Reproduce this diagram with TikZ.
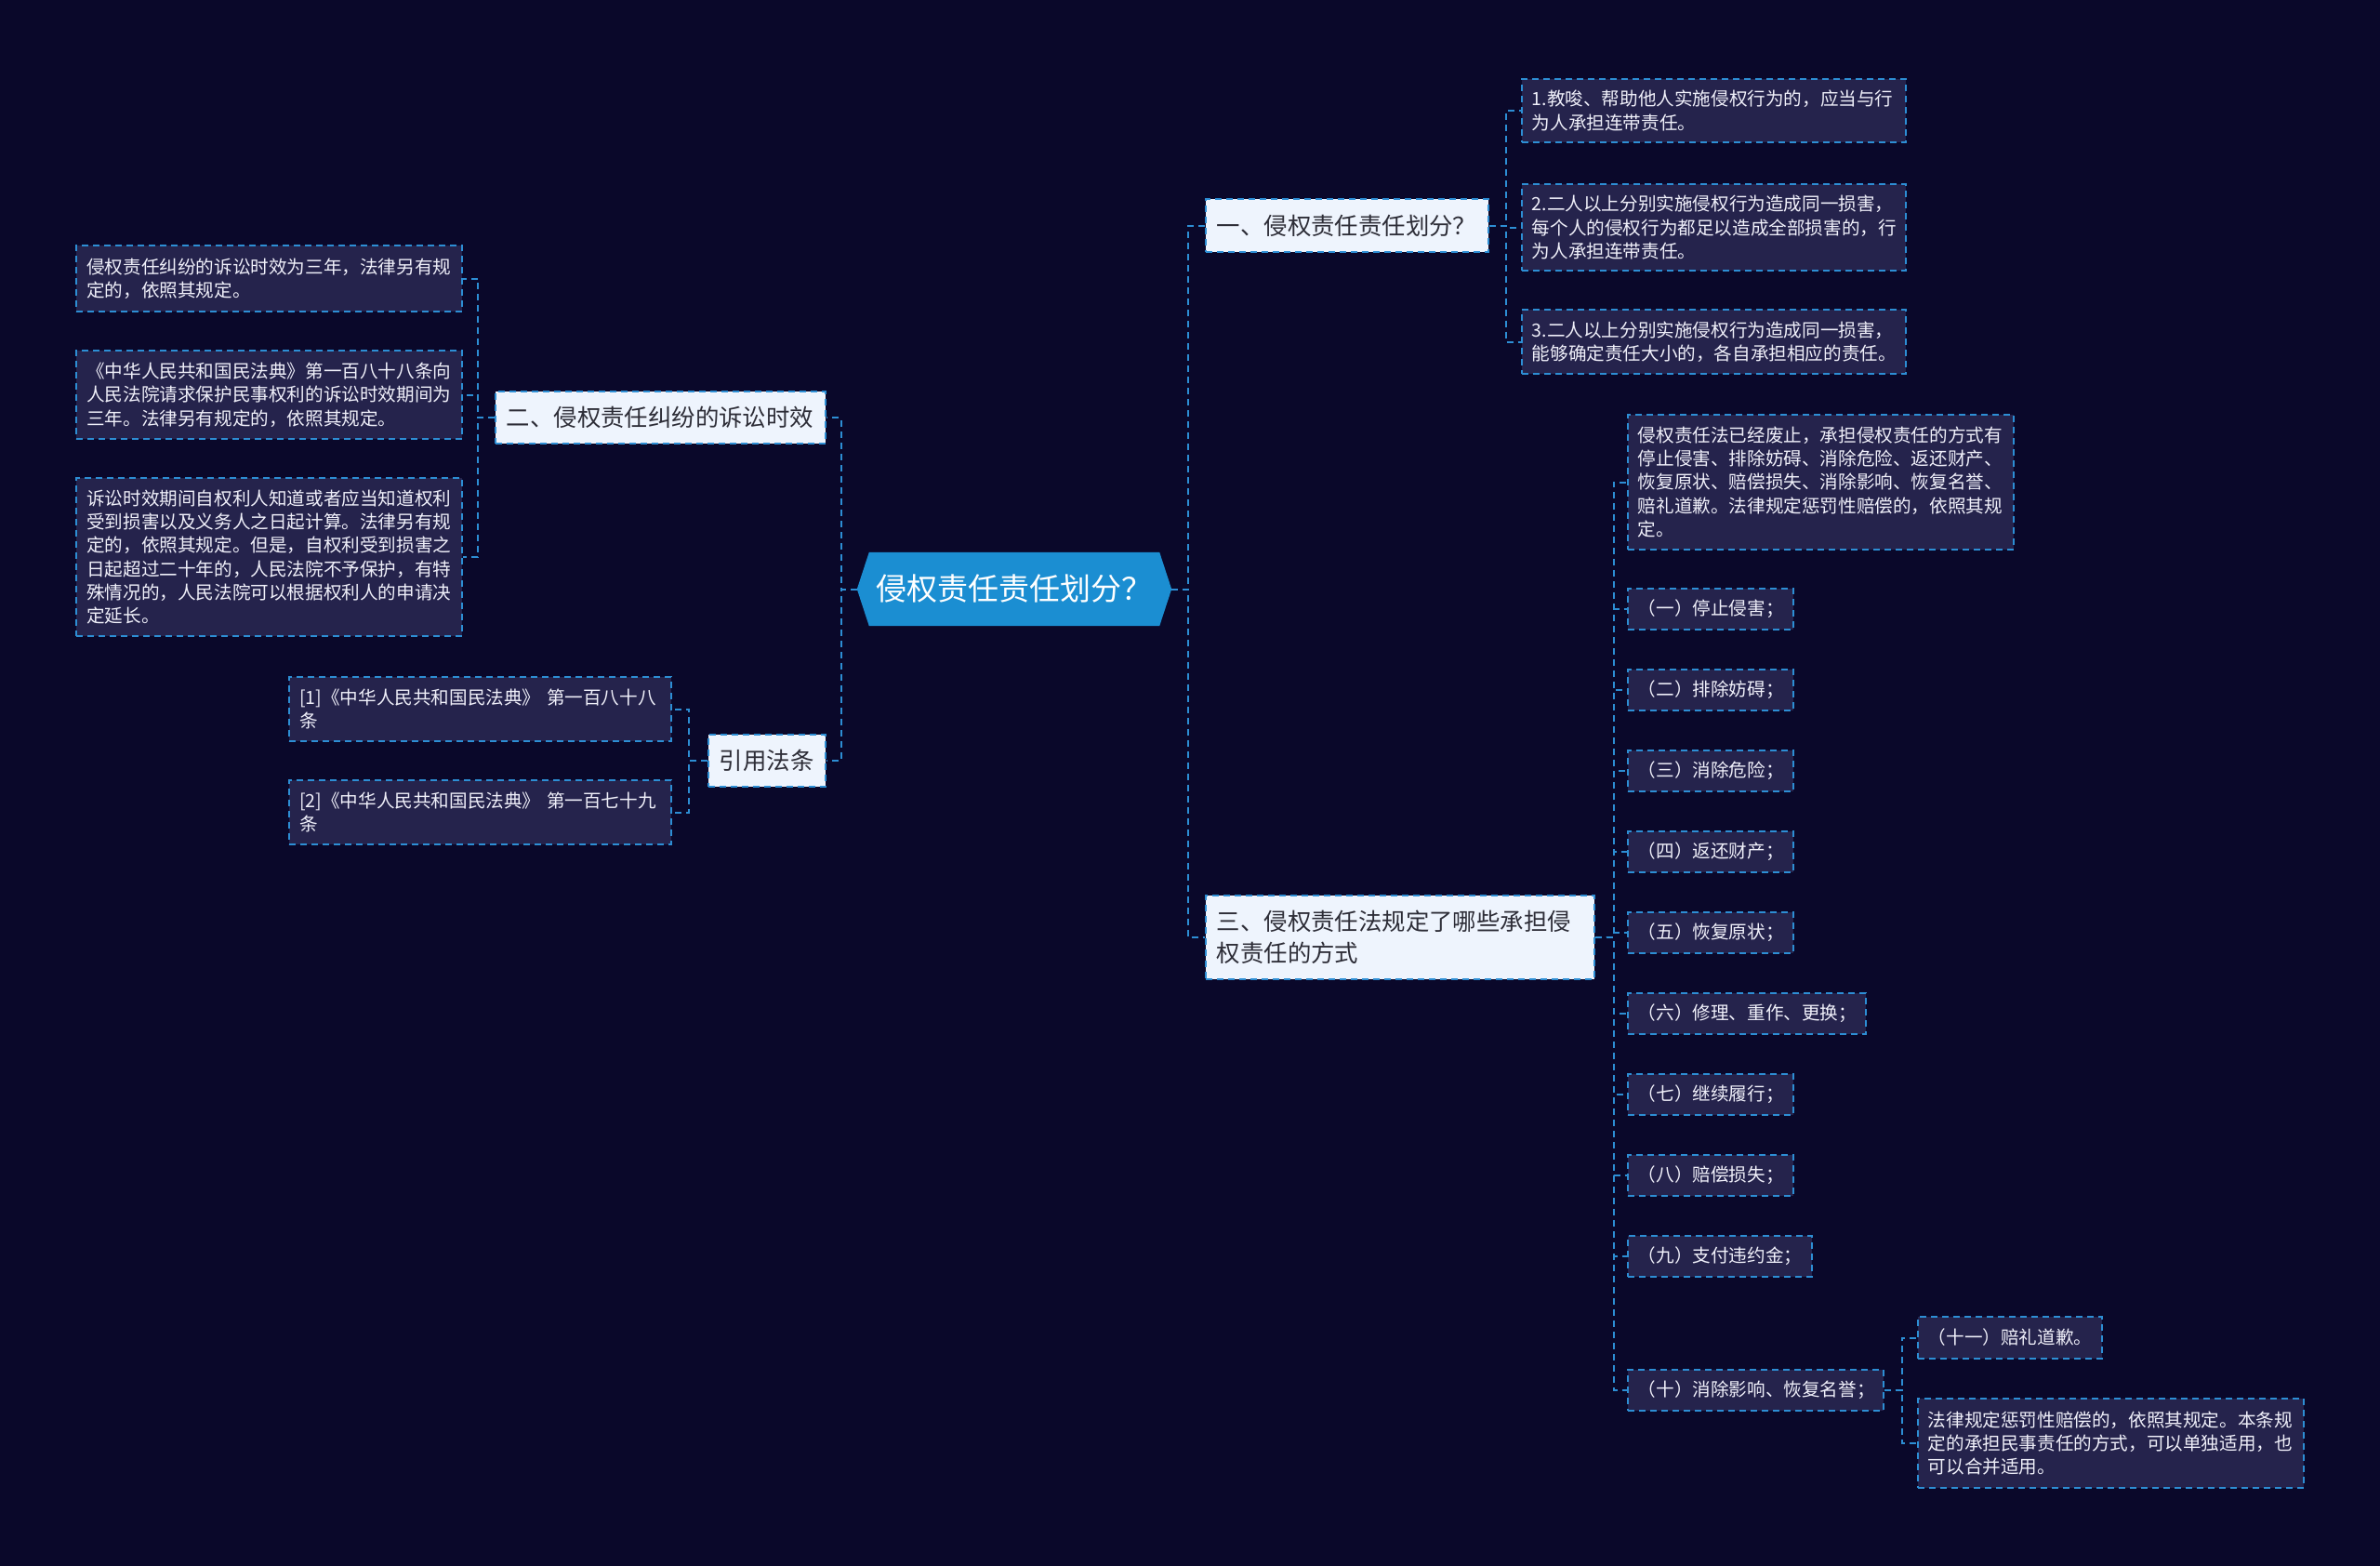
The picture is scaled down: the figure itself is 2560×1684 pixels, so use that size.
\documentclass[tikz,border=0pt]{standalone}
\usepackage{fontspec}
\setmainfont{Noto Sans CJK SC}
\usetikzlibrary{calc}
\definecolor{bgc}{RGB}{10,8,42}
\definecolor{leaff}{RGB}{37,35,76}
\definecolor{lb}{RGB}{45,142,212}
\definecolor{lvf}{RGB}{238,244,253}
\definecolor{rootf}{RGB}{27,142,210}
\definecolor{leaft}{RGB}{240,240,250}
\definecolor{lvt}{RGB}{45,45,55}
\pgfdeclarelayer{bg}
\pgfsetlayers{bg,main}
\begin{document}
\begin{tikzpicture}[x=1pt,y=-1pt,
 conn/.style={draw=lb, line width=2pt, dash pattern=on 7pt off 5pt},
 leaf/.style={draw=lb, fill=leaff, line width=1.6pt, dash pattern=on 7pt off 5pt,
   text=leaft, font=\fontsize{19.6}{25.3}\selectfont, align=left,
   inner xsep=11pt, inner ysep=0pt, anchor=west},
 lvl/.style={draw=lb, fill=lvf, line width=1.6pt, dash pattern=on 7pt off 5pt,
   text=lvt, font=\fontsize{25.4}{34}\selectfont, align=left,
   inner xsep=12pt, inner ysep=0pt, anchor=west},
 rootnode/.style={text=white, font=\fontsize{33}{38}\selectfont,
   minimum width=338pt, minimum height=79pt, inner sep=0pt}
]
\useasboundingbox (0,0) rectangle (2560,1684);
\begin{pgfonlayer}{bg}
\fill[bgc] (0,0) rectangle (2560,1684);
\end{pgfonlayer}

% root
\node[rootnode] (root) at (1091,633.5) {侵权责任责任划分？};
\begin{pgfonlayer}{bg}
\fill[rootf] (root.west) -- ($(root.north west)+(13,0)$) -- ($(root.north east)+(-13,0)$)
  -- (root.east) -- ($(root.south east)+(-13,0)$) -- ($(root.south west)+(13,0)$) -- cycle;
\end{pgfonlayer}

% level 1
\node[lvl, text width=280pt, minimum height=57pt] (n1) at (1296,242.5) {一、侵权责任责任划分？};
\node[lvl, text width=394pt, minimum height=90pt] (n3) at (1296,1008) {三、侵权责任法规定了哪些承担侵\\权责任的方式};
\node[lvl, text width=331pt, minimum height=56pt] (n2) at (532,449) {二、侵权责任纠纷的诉讼时效};
\node[lvl, text width=102pt, minimum height=56pt] (nref) at (761,818) {引用法条};

% children of n1
\node[leaf, text width=391pt, minimum height=68pt] (o1) at (1636,119) {1.教唆、帮助他人实施侵权行为的，应当与行\\为人承担连带责任。};
\node[leaf, text width=391pt, minimum height=93pt] (o2) at (1636,244.5) {2.二人以上分别实施侵权行为造成同一损害，\\每个人的侵权行为都足以造成全部损害的，行\\为人承担连带责任。};
\node[leaf, text width=391pt, minimum height=69pt] (o3) at (1636,367.5) {3.二人以上分别实施侵权行为造成同一损害，\\能够确定责任大小的，各自承担相应的责任。};

% children of n3
\node[leaf, text width=393pt, minimum height=145pt] (t0) at (1750,518.5) {侵权责任法已经废止，承担侵权责任的方式有\\停止侵害、排除妨碍、消除危险、返还财产、\\恢复原状、赔偿损失、消除影响、恢复名誉、\\赔礼道歉。法律规定惩罚性赔偿的，依照其规\\定。};
\node[leaf, text width=156pt, minimum height=44pt] (t1) at (1750,655) {（一）停止侵害；};
\node[leaf, text width=156pt, minimum height=44pt] (t2) at (1750,742) {（二）排除妨碍；};
\node[leaf, text width=156pt, minimum height=44pt] (t3) at (1750,829) {（三）消除危险；};
\node[leaf, text width=156pt, minimum height=44pt] (t4) at (1750,916) {（四）返还财产；};
\node[leaf, text width=156pt, minimum height=44pt] (t5) at (1750,1003) {（五）恢复原状；};
\node[leaf, text width=234pt, minimum height=44pt] (t6) at (1750,1090) {（六）修理、重作、更换；};
\node[leaf, text width=156pt, minimum height=44pt] (t7) at (1750,1177) {（七）继续履行；};
\node[leaf, text width=156pt, minimum height=44pt] (t8) at (1750,1264) {（八）赔偿损失；};
\node[leaf, text width=176pt, minimum height=44pt] (t9) at (1750,1351) {（九）支付违约金；};
\node[leaf, text width=253pt, minimum height=44pt] (t10) at (1750,1495) {（十）消除影响、恢复名誉；};

% children of t10
\node[leaf, text width=176pt, minimum height=45pt] (t11) at (2062,1438.5) {（十一）赔礼道歉。};
\node[leaf, text width=393pt, minimum height=96pt] (t12) at (2062,1552) {法律规定惩罚性赔偿的，依照其规定。本条规\\定的承担民事责任的方式，可以单独适用，也\\可以合并适用。};

% children of n2
\node[leaf, anchor=east, text width=393pt, minimum height=71pt] (a1) at (498,299.5) {侵权责任纠纷的诉讼时效为三年，法律另有规\\定的，依照其规定。};
\node[leaf, anchor=east, text width=393pt, minimum height=95pt] (a2) at (498,424.5) {《中华人民共和国民法典》第一百八十八条向\\人民法院请求保护民事权利的诉讼时效期间为\\三年。法律另有规定的，依照其规定。};
\node[leaf, anchor=east, text width=393pt, minimum height=170pt] (a3) at (498,599) {诉讼时效期间自权利人知道或者应当知道权利\\受到损害以及义务人之日起计算。法律另有规\\定的，依照其规定。但是，自权利受到损害之\\日起超过二十年的，人民法院不予保护，有特\\殊情况的，人民法院可以根据权利人的申请决\\定延长。};

% children of nref
\node[leaf, anchor=east, text width=389pt, minimum height=69pt] (r1) at (723,762.5) {[1]《中华人民共和国民法典》 第一百八十八\\条};
\node[leaf, anchor=east, text width=389pt, minimum height=69pt] (r2) at (723,873.5) {[2]《中华人民共和国民法典》 第一百七十九\\条};

% connectors
\foreach \c in {n1,n3} \draw[conn] (root.east) -- ++(18,0) |- (\c.west);
\foreach \c in {n2,nref} \draw[conn] (root.west) -- ++(-17,0) |- (\c.east);
\foreach \c in {o1,o2,o3} \draw[conn] (n1.east) -- ++(18,0) |- (\c.west);
\foreach \c in {t0,t1,t2,t3,t4,t5,t6,t7,t8,t9,t10} \draw[conn] (n3.east) -- ++(20,0) |- (\c.west);
\foreach \c in {t11,t12} \draw[conn] (t10.east) -- ++(19,0) |- (\c.west);
\foreach \c in {a1,a2,a3} \draw[conn] (n2.west) -- ++(-18,0) |- (\c.east);
\foreach \c in {r1,r2} \draw[conn] (nref.west) -- ++(-20,0) |- (\c.east);
\end{tikzpicture}
\end{document}
